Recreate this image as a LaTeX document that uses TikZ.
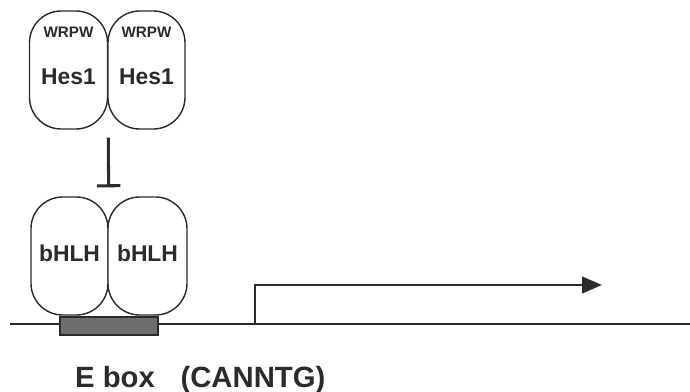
\documentclass[tikz,border=0pt]{standalone}
\usepackage{fontspec}
\setsansfont{Liberation Sans}
\usetikzlibrary{positioning, arrows.meta, calc}
\definecolor{inkdark}{HTML}{2B2B2B}
\definecolor{eboxgray}{HTML}{6E6E6E}

\begin{document}
\begin{tikzpicture}[x=0.03cm, y=-0.03cm,
    lobe/.style={draw=inkdark, line width=1.2pt, fill=white,
                 rounded corners=0.95cm, minimum width=2.34cm,
                 minimum height=3.54cm, inner sep=0pt},
    lbl/.style={text=inkdark, font=\sffamily\bfseries\fontsize{19.5}{22}\selectfont},
    tag/.style={text=inkdark, font=\sffamily\bfseries\fontsize{13}{15}\selectfont}]
  \useasboundingbox (0,0) rectangle (690,392);
  % DNA and E box
  \coordinate (dnaL) at (10,324);
  \coordinate (dnaR) at (690,324);
  \draw[inkdark, line width=1.7pt] (dnaL) -- (dnaR);
  \node[draw=inkdark, fill=eboxgray, line width=1pt, minimum width=2.94cm,
        minimum height=0.54cm, inner sep=0pt] (ebox) at (109,326) {};
  % bHLH dimer
  \node[lobe, minimum width=2.31cm] (bhL) at (69.5,256) {};
  \node[lobe, minimum width=2.37cm] (bhR) at (147.5,256) {};
  \node[lbl] (bhLt) at (69.5,253) {bHLH};
  \node[lbl] (bhRt) at (147.5,253) {bHLH};
  % Hes1 dimer
  \node[lobe] (hesL) at (68.5,70) {};
  \node[lobe, minimum width=2.31cm] (hesR) at (146.5,70) {};
  \node[tag] (wrL) at (68.5,32) {WRPW};
  \node[tag] (wrR) at (146.5,32) {WRPW};
  \node[lbl] (hesLt) at (68.5,77) {Hes1};
  \node[lbl] (hesRt) at (146.5,77) {Hes1};
  % repression
  \draw[inkdark, line width=2.6pt, shorten <=0.24cm,
        -{Bar[width=0.7cm, line width=2.6pt]}, shorten >=0.27cm]
    (hesL.south east) -- (bhL.north east);
  % transcription start
  \coordinate (tss) at (255,324);
  \coordinate (tx) at (602,285);
  \draw[inkdark, line width=1.9pt, -{Triangle[length=0.6cm, width=0.5cm]}]
    (tss) |- (tx);
  % label
  \node[text=inkdark, font=\sffamily\bfseries\fontsize{25}{28}\selectfont,
        anchor=base west] (elbl) at (71,387) {E box\hspace{0.6em} (CANNTG)};
\end{tikzpicture}
\end{document}
